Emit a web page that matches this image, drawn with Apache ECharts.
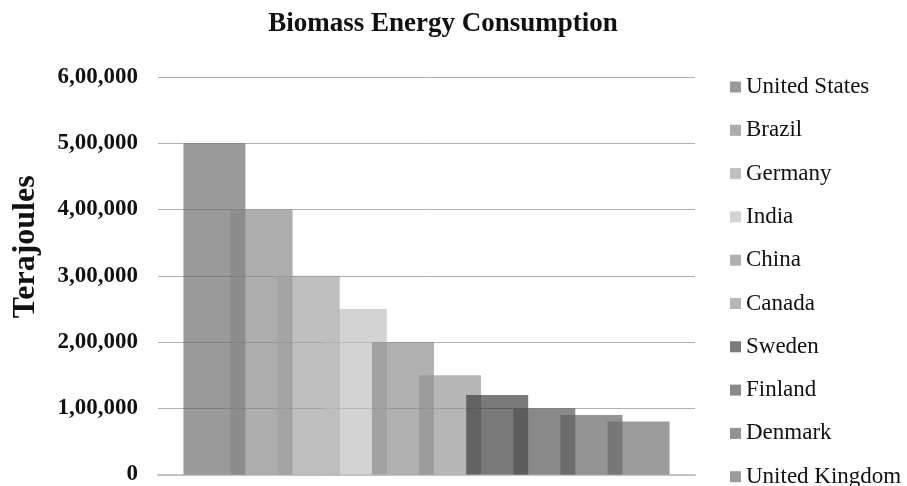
<!DOCTYPE html>
<html>
<head>
<meta charset="utf-8">
<script src="https://cdn.jsdelivr.net/npm/echarts@6/dist/echarts.min.js"></script>
<style>
  html, body { margin: 0; padding: 0; background: #ffffff; }
  #chart { width: 907px; height: 486px; }
</style>
</head>
<body>
<div id="chart"></div>
<script>
  // 数据
  const countries = ['United States', 'Brazil', 'Germany', 'India', 'China', 'Canada', 'Sweden', 'Finland', 'Denmark', 'United Kingdom'];
  const consumption = [500000, 400000, 300000, 250000, 200000, 150000, 120000, 100000, 90000, 80000];
  const barColors = ['#686868', '#858585', '#a0a0a0', '#bebebe', '#898989', '#929292', '#393939', '#4f4f4f', '#5e5e5e', '#6a6a6a'];
  const yTicks = [0, 100000, 200000, 300000, 400000, 500000, 600000];

  const serif = '"Liberation Serif", "Times New Roman", serif';

  // 印度式千分位: 6,00,000
  function indianFormat(v) {
    const s = String(v);
    if (s.length <= 3) return s;
    let last3 = s.slice(-3);
    let rest = s.slice(0, -3);
    rest = rest.replace(/\B(?=(\d{2})+(?!\d))/g, ',');
    return rest + ',' + last3;
  }

  const chart = echarts.init(document.getElementById('chart'));

  const option = {
    animation: false,
    title: {
      text: 'Biomass Energy Consumption',
      left: 438,
      textAlign: 'center',
      top: 6,
      textStyle: {
        fontFamily: serif,
        fontWeight: 'bold',
        fontSize: 27,
        color: '#111111',
      },
    },
    legend: {
      orient: 'vertical',
      left: 730,
      top: 75.5,
      height: 480,
      padding: 0,
      itemWidth: 11,
      itemHeight: 11,
      itemGap: 20.3,
      icon: 'rect',
      data: countries,
      textStyle: {
        fontFamily: serif,
        fontSize: 23,
        color: '#111111',
      },
    },
    grid: {
      left: 158,
      right: 212,
      top: 77,
      bottom: 9,
    },
    xAxis: {
      type: 'category',
      data: ['Biomass'],
      axisLabel: { show: false },
      axisTick: { show: false },
      axisLine: {
        lineStyle: { color: '#c4c4c4', width: 2 },
      },
    },
    yAxis: {
      type: 'value',
      min: yTicks[0],
      max: yTicks[yTicks.length - 1],
      interval: 100000,
      name: 'Terajoules',
      nameLocation: 'middle',
      nameRotate: 90,
      nameGap: 116,
      nameTextStyle: {
        fontFamily: serif,
        fontWeight: 'bold',
        fontSize: 32,
        color: '#111111',
        padding: [0, 0, 0, 58],
      },
      axisLine: { show: false },
      axisTick: { show: false },
      axisLabel: {
        margin: 20,
        fontFamily: serif,
        fontWeight: 'bold',
        fontSize: 23,
        color: '#111111',
        formatter: v => indianFormat(v),
      },
      splitLine: {
        lineStyle: { color: '#b0b0b0', width: 1 },
      },
    },
    series: countries.map((name, i) => ({
      name: name,
      type: 'bar',
      barWidth: 62,
      barGap: '-24%',
      data: [consumption[i]],
      itemStyle: {
        color: barColors[i],
        opacity: 0.67,
      },
    })),
  };

  chart.setOption(option);
</script>
</body>
</html>
